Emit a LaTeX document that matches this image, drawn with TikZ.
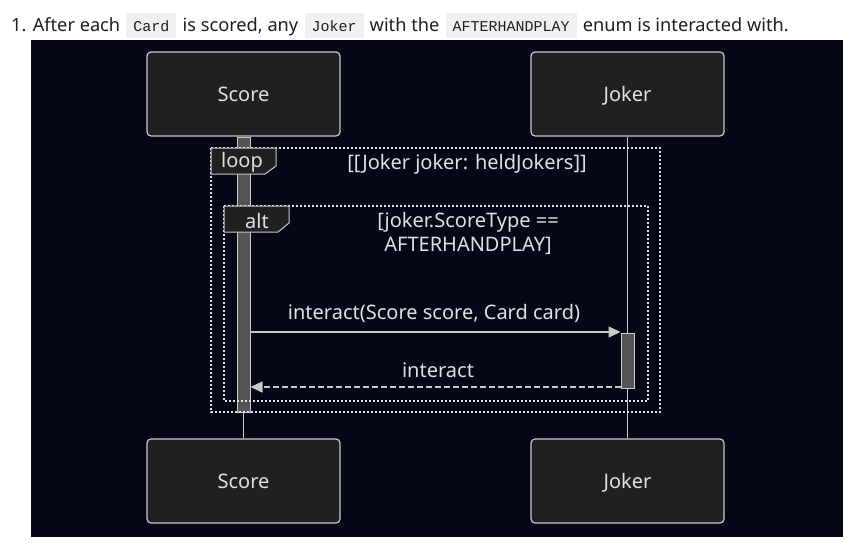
\documentclass[tikz,border=0pt]{standalone}
\usepackage{fontspec}
\setmainfont{Noto Sans}
\setmonofont{Liberation Mono}
\usetikzlibrary{arrows.meta}
\definecolor{panelbg}{HTML}{040716}
\definecolor{boxfill}{HTML}{1F2020}
\definecolor{boxline}{HTML}{C8C8C8}
\definecolor{txt}{HTML}{E0E0E0}
\definecolor{actfill}{HTML}{555555}
\definecolor{codebg}{HTML}{F0F0F0}
\definecolor{bodytxt}{HTML}{1F1F1F}
\newcommand\inlinecode[1]{\hspace{1.5pt}{\setlength\fboxsep{0pt}\colorbox{codebg}{\hspace{7pt}\rule[-7pt]{0pt}{25pt}\fontsize{15}{17}\ttfamily #1\hspace{7pt}}}\hspace{1.5pt}}
\tikzset{
  actor/.style={draw=boxline, line width=1.2pt, fill=boxfill, rounded corners=4pt,
    minimum width=193pt, minimum height=84pt, text=txt, font=\fontsize{20}{24}\selectfont, inner sep=0pt,
    text height=19pt, text depth=4pt},
  lifeline/.style={draw=boxline, line width=1.5pt},
  actbar/.style={draw=boxline, line width=1pt, fill=actfill, minimum width=13pt, inner sep=0pt},
  frame/.style={draw=txt, line width=2pt, dash pattern=on 2pt off 2pt},
  fraglabel/.style={draw=boxline, line width=1pt, fill=boxfill},
  lbl/.style={text=txt, font=\fontsize{20}{24}\selectfont, inner sep=0pt, align=center},
  msg/.style={draw=boxline, line width=1.5pt, -{Triangle[length=12pt,width=11pt]}},
  ret/.style={msg, dash pattern=on 6pt off 3pt},
}
\begin{document}
\begin{tikzpicture}[x=1pt,y=-1pt]
\useasboundingbox (0,0) rectangle (861,557);
\fill[white] (0,0) rectangle (861,557);
\fill[panelbg] (31,40) rectangle (843,537);
% heading
\node[anchor=base west, inner sep=0pt, text=bodytxt, font=\fontsize{18.2}{22}\selectfont] (head) at (11,31)
  {1. After each \inlinecode{Card} is scored, any \inlinecode{Joker} with the \inlinecode{AFTERHANDPLAY} enum is interacted with.};
% actors
\node[actor] (stop) at (243.5,94) {Score};
\node[actor] (jtop) at (627.5,94) {Joker};
\node[actor] (sbot) at (243.5,481) {Score};
\node[actor] (jbot) at (627.5,481) {Joker};
% lifelines
\draw[lifeline] (stop.south) -- (sbot.north);
\draw[lifeline] (jtop.south) -- (jbot.north);
% activations
\node[actbar, minimum height=275pt] (sact) at (243.5,274.5) {};
\node[actbar, minimum height=55pt] (jact) at (627.5,360.5) {};
% loop frame
\draw[frame] (211,148) rectangle (660,412);
\draw[fraglabel] (211,148) -- (276,148) -- (276,166) -- (265,174) -- (211,174) -- cycle;
\node[lbl] (looplbl) at (242,162) {loop};
\node[lbl] (loopcond) at (467,164) {[[Joker joker: heldJokers]]};
% alt frame
\draw[frame] (224,206) rectangle (648,401);
\draw[fraglabel] (224,206) -- (289,206) -- (289,223) -- (278,232) -- (224,232) -- cycle;
\node[lbl] (altlbl) at (257,221) {alt};
\node[lbl] (altcond) at (468,233) {[joker.ScoreType ==\\AFTERHANDPLAY]};
% messages
\coordinate (m1) at (0,332);
\coordinate (m2) at (0,387);
\draw[msg] (sact.east |- m1) -- (jact.west |- m1);
\node[lbl] (m1lbl) at (434,313) {interact(Score score, Card card)};
\draw[ret] (jact.west |- m2) -- (sact.east |- m2);
\node[lbl] (m2lbl) at (438,370) {interact};
\end{tikzpicture}
\end{document}
